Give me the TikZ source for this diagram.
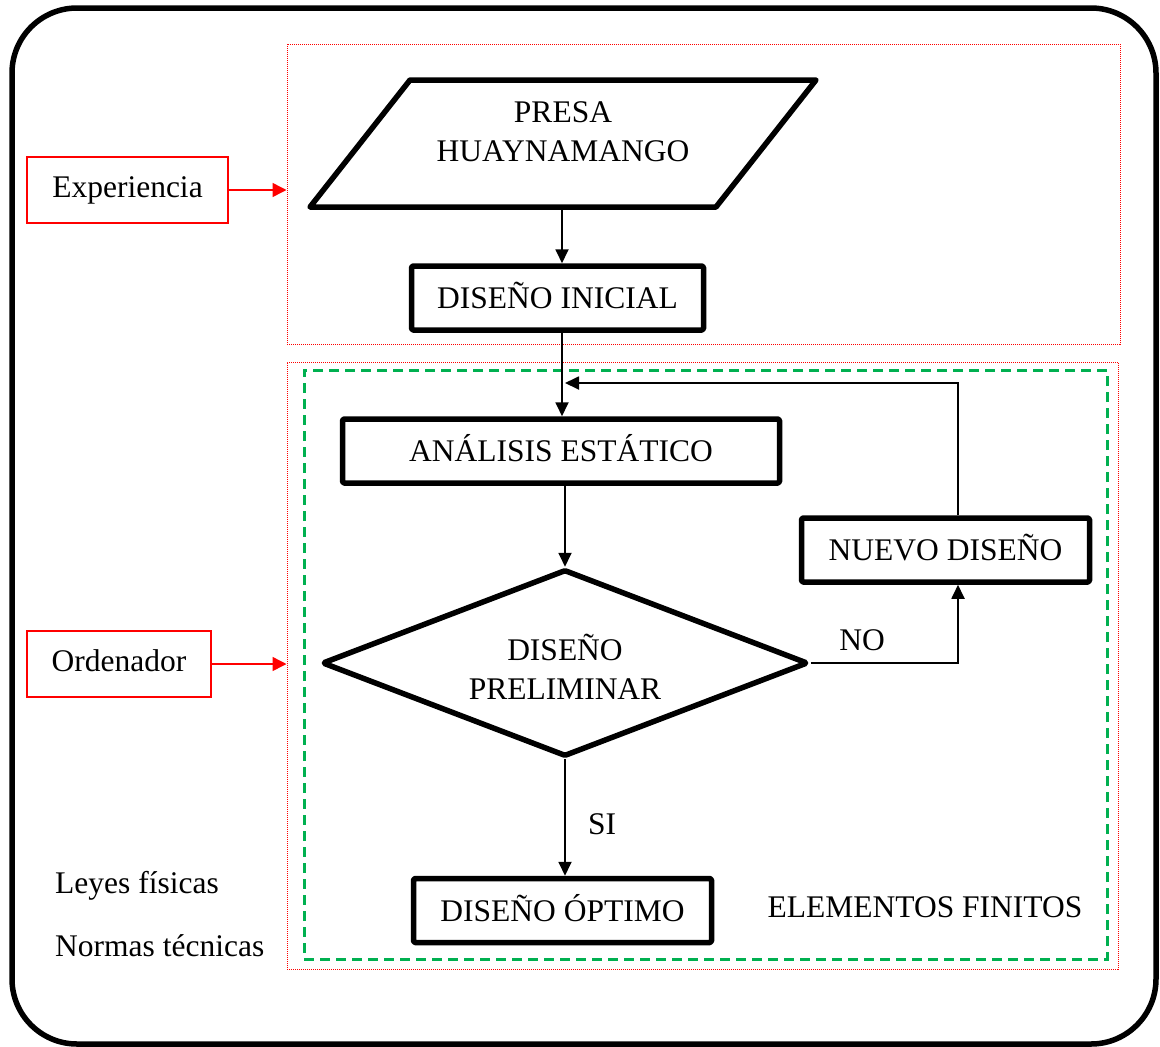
\documentclass[tikz,border=0pt]{standalone}
\usepackage{fontspec}
\setmainfont{Liberation Serif}
\usetikzlibrary{arrows.meta,shapes.geometric}
\definecolor{dashgreen}{RGB}{0,176,80}
\begin{document}
\begin{tikzpicture}[x=1pt,y=-1pt,
  lbl/.style={font=\fontsize{31.5}{39}\selectfont, inner sep=0pt},
  blk/.style={draw, line width=5.5pt, line join=round, rounded corners=1.5pt,
    font=\fontsize{31.5}{39}\selectfont, inner sep=0pt, align=center,
    text height=21pt, text depth=0pt},
  redbox/.style={draw=red, line width=1.2pt, font=\fontsize{31.5}{39}\selectfont,
    inner sep=0pt, text height=21pt, text depth=6pt},
  zone/.style={draw=red, line width=1pt, dash pattern=on 1pt off 1pt, inner sep=0pt},
  calczone/.style={draw=dashgreen, line width=3pt, dash pattern=on 10pt off 6pt, inner sep=0pt},
  flow/.style={line width=1.8pt, -{Triangle[length=14pt,width=13pt]}},
  redflow/.style={draw=red, line width=1.5pt, -{Triangle[length=14pt,width=14pt]}}
]
\useasboundingbox (0,0) rectangle (1160,1047);

% outer frame
\draw[line width=5.5pt, rounded corners=65pt] (12,8) rectangle (1156,1044);

% dotted zones and the dashed finite-element region
\node[zone, minimum width=833pt, minimum height=300pt] (zoneA) at (703.5,194) {};
\node[zone, minimum width=831pt, minimum height=607pt] (zoneB) at (702.5,665.5) {};
\node[calczone, minimum width=803pt, minimum height=589pt] (fem) at (705.5,664.5) {};

% side inputs
\node[redbox, minimum width=201pt, minimum height=66pt] (exp) at (127.5,190) {Experiencia};
\node[redbox, minimum width=184pt, minimum height=66pt] (ord) at (119,664) {Ordenador};
\draw[redflow] (exp.east) -- (exp.east -| zoneA.west);
\draw[redflow] (ord.east) -- (ord.east -| zoneB.west);

\node[lbl, anchor=west] (leyes) at (55,886) {Leyes físicas};
\node[lbl, anchor=west] (normas) at (55,946) {Normas técnicas};

% data input (parallelogram)
\draw[line width=5.5pt, line join=round] (410,80) -- (816,80) -- (716,207) -- (310,207) -- cycle;
\node[lbl, align=center] (presa) at (563,131.5) {PRESA\\HUAYNAMANGO};
\coordinate (presbot) at (562,207);

% process blocks
\node[blk, minimum width=292pt, minimum height=64pt] (ini) at (557.5,298) {DISEÑO INICIAL};
\node[blk, minimum width=437pt, minimum height=64pt] (ana) at (561,451) {ANÁLISIS ESTÁTICO};
\node[blk, diamond, aspect=2.6, minimum width=486pt, minimum height=187pt, text height=, text depth=] (dia) at (565,663) {};
\node[lbl, align=center] (diatxt) at (565,666.5) {DISEÑO\\PRELIMINAR};
\node[blk, minimum width=288pt, minimum height=64pt] (nue) at (945.5,550) {NUEVO DISEÑO};
\node[blk, minimum width=298pt, minimum height=64pt] (opt) at (562.5,910.5) {DISEÑO ÓPTIMO};

\node[lbl] (elem) at (925,907) {ELEMENTOS FINITOS};

% connectors
\coordinate (loopx) at (958,0);
\coordinate (join) at (565,383);
\draw[flow] (presbot) -- (presbot |- ini.north);
\draw[flow] (ini.south -| presbot) -- (presbot |- ana.north);
\draw[flow] (ana.south -| dia.north) -- (dia.north);
\draw[flow] (dia.east) -- (dia.east -| loopx) -- (nue.south -| loopx);
\draw[flow] (nue.north -| loopx) -- (join -| loopx) -- (join);
\draw[flow] (dia.south) -- (dia.south |- opt.north);

\node[lbl] (no) at (862,640) {NO};
\node[lbl] (si) at (602,824) {SI};
\end{tikzpicture}
\end{document}
